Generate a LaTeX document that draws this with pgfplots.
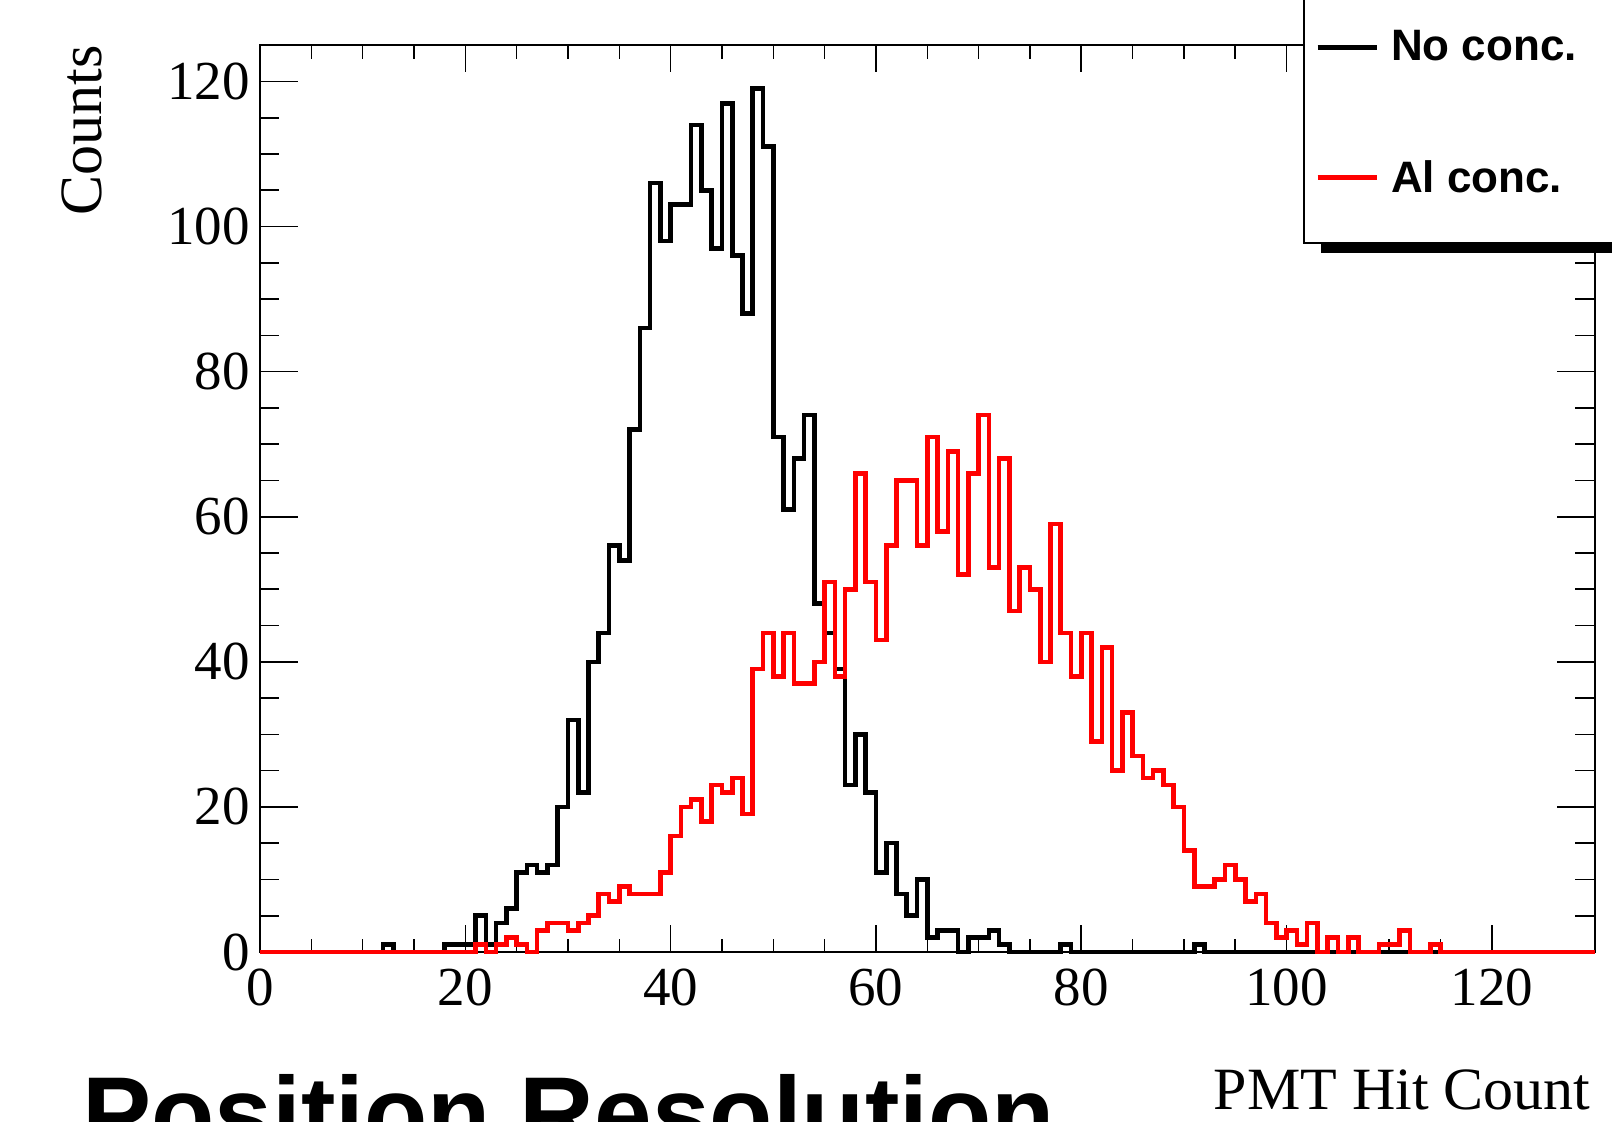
\documentclass[border=0pt]{standalone}
\usepackage{fontspec}
\setmainfont{Liberation Serif}
\newfontfamily\helv{Liberation Sans}
\usepackage{pgfplots}
\pgfplotsset{compat=1.18}
\definecolor{rootred}{RGB}{255,0,0}
\newcommand{\tickfont}{\fontsize{27.5}{33}\selectfont}
\newcommand{\labfont}{\fontsize{30}{36}\selectfont}
\newcommand{\legfont}{\helv\bfseries\fontsize{22}{26}\selectfont}
\newcommand{\titfont}{\helv\bfseries\fontsize{51.8}{60}\selectfont}
\pgfplotsset{
  common/.style={
    at={(0,0)}, anchor=south west,
    scale only axis, width=667.3pt, height=453.4pt,
    xmin=0, xmax=130, ymin=0, ymax=125,
    axis line style={line width=1pt},
    tick style={line width=0.8pt, black},
    tick align=inside,
    /pgf/number format/assume math mode=true,
    ticklabel style={font=\tickfont},
    xticklabel style={inner sep=0pt, anchor=north, yshift=-8.5pt},
    yticklabel style={inner sep=0pt, anchor=east, xshift=-5pt},
    clip=false,
  }
}
\begin{document}
\begin{tikzpicture}
\path[use as bounding box] (-130pt,-84.5pt) rectangle (676pt,476pt);
\clip (-130pt,-84.5pt) rectangle (676pt,476pt);
% axis carrying the y ticks (longer ticks, as in ROOT)
\begin{axis}[common,
  xtick=\empty,
  ytick={0,20,...,120}, minor y tick num=3,
  major tick length=19pt, minor tick length=9.7pt]
\addplot[draw=none] coordinates {(0,0)};
\end{axis}
% main axis with the histograms and x ticks
\begin{axis}[common,
  xtick={0,20,...,120}, minor x tick num=3,
  ytick=\empty,
  major tick length=13.3pt, minor tick length=6.7pt,
  xlabel={PMT Hit Count},
  xlabel style={font=\labfont, at={(axis description cs:0.9973,-0.1742)}, anchor=base east, inner sep=0pt},
  ylabel={Counts},
  ylabel style={font=\labfont, at={(axis description cs:-0.1184,1)}, anchor=base east, inner sep=0pt},
  title={Position Resolution},
  title style={font=\titfont, at={(axis description cs:-0.1334,-0.2305)}, anchor=base west, inner sep=0pt},
  legend cell align=left,
  legend image code/.code={\draw[#1] (0pt,0pt) -- (29.5pt,0pt);},
  legend style={at={(axis description cs:0.7905,1.0165)}, anchor=north west,
    draw=none, fill=none, inner sep=0pt, row sep=48.2pt,
    font=\legfont, nodes={inner sep=0pt},
    /tikz/every odd column/.append style={column sep=6pt}},
]
\addplot[const plot, black, line width=2.3pt] coordinates {
(0,0)(12,1)(13,0)(18,1)(21,5)(22,1)(23,4)(24,6)(25,11)(26,12)(27,11)(28,12)(29,20)(30,32)(31,22)(32,40)(33,44)(34,56)(35,54)(36,72)(37,86)(38,106)(39,98)(40,103)(42,114)(43,105)(44,97)(45,117)(46,96)(47,88)(48,119)(49,111)(50,71)(51,61)(52,68)(53,74)(54,48)(55,44)(56,39)(57,23)(58,30)(59,22)(60,11)(61,15)(62,8)(63,5)(64,10)(65,2)(66,3)(68,0)(69,2)(71,3)(72,1)(73,0)(78,1)(79,0)(91,1)(92,0)(130,0)
};
\addlegendentry{No conc.}
\addplot[const plot, rootred, line width=2.3pt] coordinates {
(0,0)(21,1)(22,0)(23,1)(24,2)(25,1)(26,0)(27,3)(28,4)(30,3)(31,4)(32,5)(33,8)(34,7)(35,9)(36,8)(39,11)(40,16)(41,20)(42,21)(43,18)(44,23)(45,22)(46,24)(47,19)(48,39)(49,44)(50,38)(51,44)(52,37)(54,40)(55,51)(56,38)(57,50)(58,66)(59,51)(60,43)(61,56)(62,65)(64,56)(65,71)(66,58)(67,69)(68,52)(69,66)(70,74)(71,53)(72,68)(73,47)(74,53)(75,50)(76,40)(77,59)(78,44)(79,38)(80,44)(81,29)(82,42)(83,25)(84,33)(85,27)(86,24)(87,25)(88,23)(89,20)(90,14)(91,9)(93,10)(94,12)(95,10)(96,7)(97,8)(98,4)(99,2)(100,3)(101,1)(102,4)(103,0)(104,2)(105,0)(106,2)(107,0)(109,1)(111,3)(112,0)(114,1)(115,0)(130,0)
};
\addlegendentry{Al conc.}
% legend frame (ROOT TLegend box with shadow)
\fill[black] (rel axis cs:0.795,0.7708) rectangle (rel axis cs:1.2,0.7823);
\filldraw[fill=white, draw=black, line width=1pt] (rel axis cs:0.7819,0.7823) rectangle (rel axis cs:1.2,1.2);
\end{axis}
\end{tikzpicture}
\end{document}
